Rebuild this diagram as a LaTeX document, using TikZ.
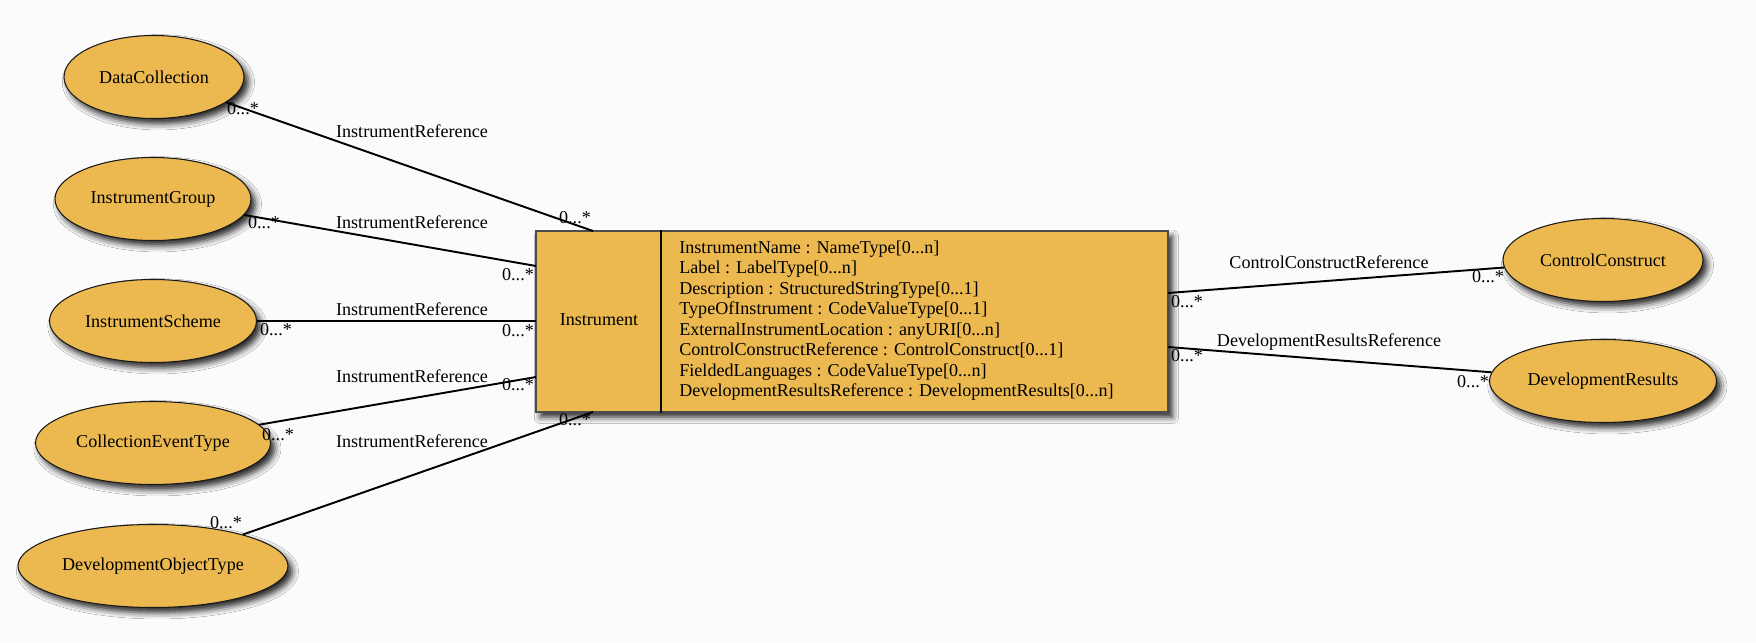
\documentclass[tikz,border=0pt]{standalone}
\usepackage{fontspec}
\setmainfont{Liberation Serif}
\usepackage{tikz}
\usetikzlibrary{shapes.geometric,shadows.blur}
\definecolor{classfill}{RGB}{236,185,80}
\definecolor{bgcol}{RGB}{251,251,251}
\tikzset{
    every node/.style={inner sep=0pt, font=\fontsize{10.3}{11.65}\selectfont}
}
\tikzset{
    cls/.style={ellipse, draw=black!90, fill=classfill, line width=0.6pt,
        minimum height=1.66cm,
        blur shadow={shadow xshift=2.5pt, shadow yshift=-3pt,
        shadow blur radius=3.5pt, shadow opacity=85}},
    box/.style={rectangle, draw=black!70, fill=classfill, line width=0.8pt,
        minimum width=12.64cm, minimum height=3.62cm,
        blur shadow={shadow xshift=2.5pt, shadow yshift=-3pt,
        shadow blur radius=3.5pt, shadow opacity=85}}
}
\tikzset{
    every edge/.append style={line width=1.1pt}
}

\begin{document}
\begin{tikzpicture}
	\fill[bgcol] (0cm, 0cm) rectangle (35.12cm, -12.84cm);
	\useasboundingbox (0cm, 0cm) rectangle (35.12cm, -12.84cm);

	\node (1) [cls, minimum width=3.6cm] at (3.08cm, -1.54cm) {DataCollection};
	\node (2) [cls, minimum width=3.92cm] at (3.06cm, -3.98cm) {InstrumentGroup};
	\node (3) [cls, minimum width=4.14cm] at (3.06cm, -6.42cm) {InstrumentScheme};
	\node (4) [cls, minimum width=4.7cm] at (3.06cm, -8.86cm) {CollectionEventType};
	\node (5) [cls, minimum width=5.4cm] at (3.06cm, -11.32cm) {DevelopmentObjectType};
	\node (6) [cls, minimum width=4.0cm] at (32.06cm, -5.2cm) {ControlConstruct};
	\node (7) [cls, minimum width=4.54cm] at (32.06cm, -7.62cm) {DevelopmentResults};

	\node (9) [box] at (17.04cm, -6.43cm) {};
	\coordinate (d) at (13.22cm, -6.42cm);
	\draw[line width=0.8pt] (d |- 9.north) -- (d |- 9.south);
	\node (10) at (11.98cm, -6.4cm) {Instrument};
	\node (11) [anchor=west, align=left] at (13.58cm, -6.41cm) {%
		InstrumentName : NameType[0...n]\\
		Label : LabelType[0...n]\\
		Description : StructuredStringType[0...1]\\
		TypeOfInstrument : CodeValueType[0...1]\\
		ExternalInstrumentLocation : anyURI[0...n]\\
		ControlConstructReference : ControlConstruct[0...1]\\
		FieldedLanguages : CodeValueType[0...n]\\
		DevelopmentResultsReference : DevelopmentResults[0...n]};

	\coordinate (c1) at (11.86cm, -4.62cm);
	\coordinate (c2) at (10.72cm, -5.32cm);
	\coordinate (c3) at (10.72cm, -6.42cm);
	\coordinate (c4) at (10.72cm, -7.54cm);
	\coordinate (c5) at (11.86cm, -8.24cm);
	\coordinate (c6) at (23.36cm, -5.86cm);
	\coordinate (c7) at (23.36cm, -6.94cm);

	\draw (1) edge (c1); \draw (2) edge (c2); \draw (3) edge (c3);
	\draw (4) edge (c4); \draw (5) edge (c5);
	\draw (c6) edge (6); \draw (c7) edge (7);

	\node (l1) at (8.24cm, -2.62cm) {InstrumentReference};
	\node (l2) at (8.24cm, -4.44cm) {InstrumentReference};
	\node (l3) at (8.24cm, -6.18cm) {InstrumentReference};
	\node (l4) at (8.24cm, -7.52cm) {InstrumentReference};
	\node (l5) at (8.24cm, -8.82cm) {InstrumentReference};
	\node (l6) at (26.58cm, -5.24cm) {ControlConstructReference};
	\node (l7) at (26.58cm, -6.84cm) {DevelopmentResultsReference};

	\node (m1) at (4.86cm, -2.18cm) {0...*};
	\node (m2) at (11.5cm, -4.36cm) {0...*};
	\node (m3) at (5.28cm, -4.46cm) {0...*};
	\node (m4) at (10.36cm, -5.5cm) {0...*};
	\node (m5) at (5.52cm, -6.6cm) {0...*};
	\node (m6) at (10.36cm, -6.62cm) {0...*};
	\node (m7) at (10.36cm, -7.7cm) {0...*};
	\node (m8) at (5.56cm, -8.7cm) {0...*};
	\node (m9) at (4.52cm, -10.46cm) {0...*};
	\node (m10) at (11.5cm, -8.4cm) {0...*};
	\node (m11) at (23.74cm, -6.04cm) {0...*};
	\node (m12) at (29.76cm, -5.54cm) {0...*};
	\node (m13) at (23.74cm, -7.12cm) {0...*};
	\node (m14) at (29.46cm, -7.64cm) {0...*};
\end{tikzpicture}
\end{document}
